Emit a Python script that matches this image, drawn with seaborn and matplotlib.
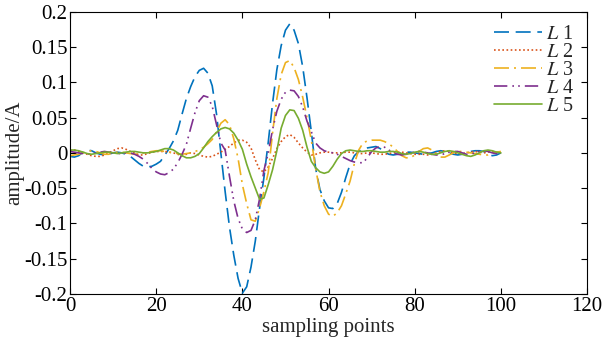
import numpy as np
import pandas as pd
import seaborn as sns
import matplotlib.pyplot as plt

# sampling points 0..100
points = list(range(101))

L1 = [-0.005, -0.006, -0.004, 0.001, 0.004, 0.003, 0.000, -0.002, -0.003, -0.002,
      0.000, 0.001, 0.000, -0.002, -0.005, -0.010, -0.015, -0.019, -0.020, -0.019,
      -0.016, -0.012, -0.003, 0.006, 0.017, 0.032, 0.055, 0.077, 0.094, 0.108,
      0.117, 0.120, 0.113, 0.095, 0.055, 0.000, -0.055, -0.105, -0.145, -0.178,
      -0.199, -0.190, -0.162, -0.125, -0.078, -0.035, 0.015, 0.070, 0.118, 0.152,
      0.174, 0.183, 0.174, 0.155, 0.122, 0.078, 0.030, -0.022, -0.052, -0.068,
      -0.078, -0.079, -0.072, -0.056, -0.035, -0.016, -0.004, 0.002, 0.005, 0.007,
      0.008, 0.009, 0.006, 0.001, -0.002, -0.003, -0.002, 0.000, 0.001, 0.001,
      0.000, -0.001, -0.002, -0.001, 0.000, 0.002, 0.003, 0.002, 0.000, -0.002,
      -0.003, -0.002, 0.000, 0.002, 0.003, 0.003, 0.002, -0.002, -0.004, -0.003,
      0.000]

L2 = [0.003, 0.004, 0.002, 0.000, -0.002, -0.004, -0.005, -0.005, -0.003, 0.000,
      0.003, 0.006, 0.007, 0.005, 0.002, 0.000, -0.003, -0.003, -0.001, 0.001,
      0.002, 0.002, 0.002, 0.001, 0.000, -0.002, -0.004, -0.002, 0.000, -0.001,
      -0.003, -0.005, -0.006, -0.005, -0.002, 0.001, 0.005, 0.009, 0.014, 0.018,
      0.018, 0.015, 0.007, -0.010, -0.024, -0.027, -0.020, -0.008, 0.006, 0.016,
      0.023, 0.026, 0.022, 0.014, 0.007, 0.001, -0.003, -0.002, 0.000, 0.001,
      0.001, 0.000, 0.000, 0.000, 0.001, 0.001, 0.000, -0.001, -0.001, 0.000,
      0.000, -0.001, -0.002, -0.002, -0.001, 0.000, 0.001, 0.001, 0.000, -0.001,
      -0.002, -0.002, -0.002, -0.003, -0.002, 0.000, 0.002, 0.003, 0.002, 0.000,
      -0.001, -0.001, 0.000, 0.001, 0.002, 0.001, 0.000, 0.001, 0.002, 0.001,
      0.000]

L3 = [-0.004, -0.003, -0.002, 0.000, 0.002, 0.003, 0.002, 0.000, -0.002, -0.002,
      0.000, 0.001, 0.001, 0.000, -0.001, -0.002, -0.001, 0.000, 0.001, 0.002,
      0.003, 0.003, 0.002, 0.001, 0.000, -0.001, -0.002, -0.001, 0.000, 0.002,
      0.004, 0.008, 0.013, 0.019, 0.030, 0.042, 0.047, 0.040, 0.020, -0.008,
      -0.045, -0.072, -0.095, -0.097, -0.078, -0.055, -0.028, 0.028, 0.077, 0.111,
      0.128, 0.131, 0.121, 0.104, 0.079, 0.050, 0.018, -0.022, -0.055, -0.075,
      -0.087, -0.090, -0.085, -0.075, -0.058, -0.040, -0.015, 0.004, 0.014, 0.017,
      0.018, 0.018, 0.018, 0.016, 0.013, 0.008, 0.002, -0.004, -0.007, -0.007,
      -0.003, 0.002, 0.006, 0.007, 0.004, -0.002, -0.006, -0.006, -0.003, 0.000,
      0.002, 0.002, 0.001, 0.000, -0.001, -0.002, -0.003, -0.003, -0.001, 0.001,
      0.002]

L4 = [0.002, 0.001, 0.000, -0.001, -0.002, -0.001, 0.000, 0.001, 0.002, 0.001,
      0.000, -0.001, -0.001, 0.000, 0.000, -0.002, -0.005, -0.009, -0.015, -0.022,
      -0.027, -0.030, -0.031, -0.028, -0.023, -0.014, -0.002, 0.012, 0.035, 0.057,
      0.074, 0.081, 0.079, 0.066, 0.040, 0.014, 0.004, -0.033, -0.068, -0.093,
      -0.108, -0.113, -0.110, -0.095, -0.065, -0.025, 0.000, 0.033, 0.059, 0.076,
      0.086, 0.089, 0.088, 0.080, 0.065, 0.045, 0.030, 0.014, 0.007, 0.003,
      0.001, 0.000, -0.002, -0.005, -0.008, -0.011, -0.013, -0.014, -0.014, -0.007,
      0.002, 0.007, 0.009, 0.008, 0.004, 0.000, -0.002, -0.003, -0.002, 0.000,
      0.001, 0.002, 0.001, 0.000, -0.002, -0.003, -0.003, -0.001, 0.001, 0.002,
      0.002, 0.000, -0.002, -0.002, 0.000, 0.002, 0.003, 0.002, 0.000, -0.001,
      0.000]

L5 = [0.004, 0.004, 0.003, 0.001, -0.001, -0.002, -0.001, 0.000, 0.001, 0.001,
      0.000, -0.001, 0.000, 0.001, 0.002, 0.002, 0.001, 0.000, 0.000, 0.001,
      0.002, 0.004, 0.006, 0.006, 0.004, 0.000, -0.004, -0.007, -0.007, -0.005,
      -0.001, 0.007, 0.016, 0.023, 0.029, 0.034, 0.036, 0.034, 0.028, 0.018,
      0.005, -0.016, -0.034, -0.050, -0.066, -0.064, -0.045, -0.024, 0.003, 0.035,
      0.053, 0.061, 0.060, 0.049, 0.032, 0.008, -0.012, -0.021, -0.027, -0.029,
      -0.027, -0.019, -0.009, -0.001, 0.003, 0.004, 0.003, 0.002, 0.002, 0.003,
      0.003, 0.002, 0.001, 0.001, 0.002, 0.002, 0.001, -0.001, -0.002, -0.001,
      0.001, 0.002, 0.001, -0.001, -0.002, -0.002, 0.000, 0.002, 0.003, 0.002,
      0.000, -0.002, -0.004, -0.005, -0.003, 0.000, 0.003, 0.004, 0.003, 0.001,
      0.000]

names = [r'$L$ 1', r'$L$ 2', r'$L$ 3', r'$L$ 4', r'$L$ 5']
colors = ['#0072BD', '#D95319', '#EDB120', '#7E2F8E', '#77AC30']
dash_styles = [(9, 4), (1, 1.5), (9, 3, 1.2, 3), (8, 3, 1, 2.5, 1, 3), '']

df = pd.concat([pd.DataFrame({'x': points, 'y': v, 'line': n})
                for n, v in zip(names, [L1, L2, L3, L4, L5])])

sns.set_style('ticks')
plt.rcParams['font.family'] = ['Liberation Serif', 'DejaVu Serif']
plt.rcParams['mathtext.fontset'] = 'stix'
plt.rcParams['axes.unicode_minus'] = False

fig = plt.figure(figsize=(6.09, 3.49), dpi=100)
ax = fig.add_axes([0.115, 0.158, 0.849, 0.808])

sns.lineplot(data=df, x='x', y='y', hue='line', style='line',
             palette=dict(zip(names, colors)),
             dashes=dict(zip(names, dash_styles)),
             linewidth=1.2, ax=ax)

ax.set_xlim(0, 120)
ax.set_ylim(-0.2, 0.2)
ax.set_xticks([0, 20, 40, 60, 80, 100, 120])
yt = [-0.2, -0.15, -0.1, -0.05, 0, 0.05, 0.1, 0.15, 0.2]
ax.set_yticks(yt)
ax.set_yticklabels(['-0.2', '-0.15', '-0.1', '-0.05', '0', '0.05', '0.1', '0.15', '0.2'])
ax.tick_params(direction='in', top=True, right=True, labelsize=15, length=4,
               width=0.8, colors='black', pad=2)
for s in ax.spines.values():
    s.set_visible(True)
    s.set_linewidth(0.8)
    s.set_color('black')

ax.set_xlabel('sampling points', fontsize=15, labelpad=2)
ax.set_ylabel('amplitude/A', fontsize=15, labelpad=0)

leg = ax.legend(loc='upper right', frameon=False, fontsize=14.5,
                handlelength=2.4, handletextpad=0.2, labelspacing=-0.05,
                borderaxespad=0.1, bbox_to_anchor=(0.995, 0.99))

fig.savefig('out.png', dpi=100)
